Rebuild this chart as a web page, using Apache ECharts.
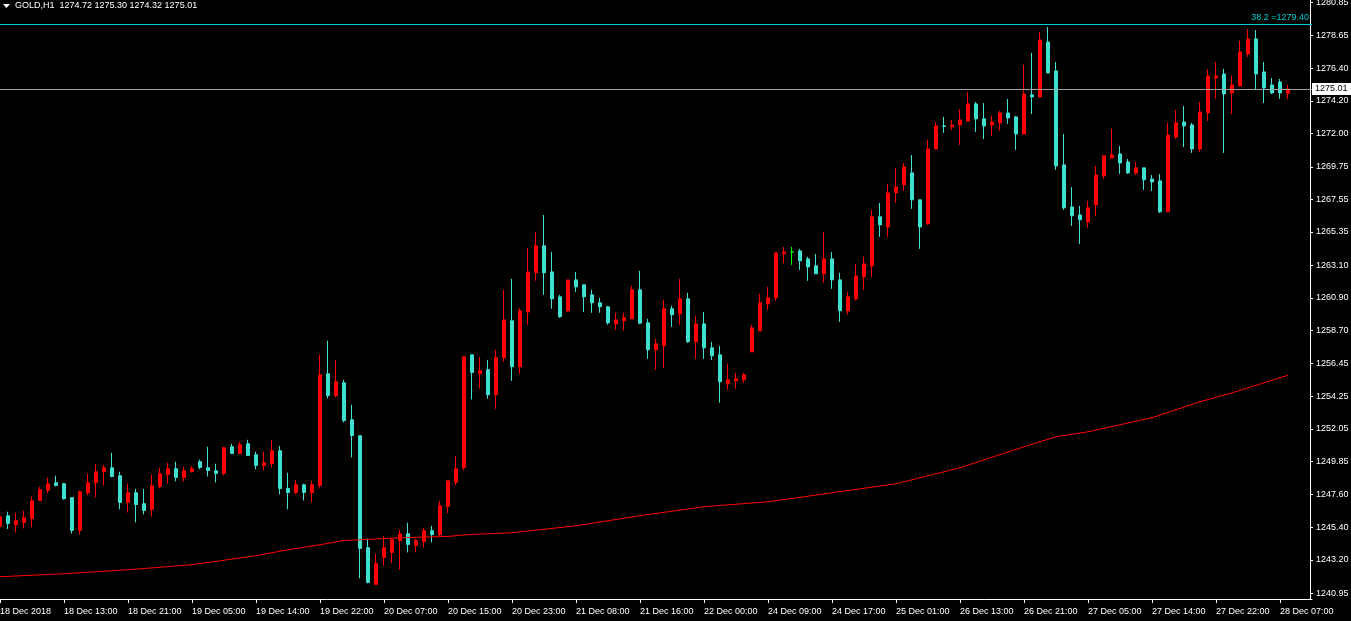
<!DOCTYPE html>
<html><head><meta charset="utf-8">
<script src="https://cdn.jsdelivr.net/npm/echarts@6/dist/echarts.min.js"></script>
<style>html,body{margin:0;padding:0;background:#000;overflow:hidden}#c{width:1351px;height:621px}</style>
</head><body><div id="c"></div>
<script>
const symbolName = 'GOLD,H1';
const tickLabels = ['18 Dec 2018','18 Dec 13:00','18 Dec 21:00','19 Dec 05:00','19 Dec 14:00','19 Dec 22:00','20 Dec 07:00','20 Dec 15:00','20 Dec 23:00','21 Dec 08:00','21 Dec 16:00','22 Dec 00:00','24 Dec 09:00','24 Dec 17:00','25 Dec 01:00','26 Dec 13:00','26 Dec 21:00','27 Dec 05:00','27 Dec 14:00','27 Dec 22:00','28 Dec 07:00'];
const tickAnchors = [[18,5],[18,13],[18,21],[19,5],[19,14],[19,22],[20,7],[20,15],[20,23],[21,8],[21,16],[22,0],[24,9],[24,17],[25,1],[26,13],[26,21],[27,5],[27,14],[27,22],[28,7]];
const opens = [1245.46,1246.18,1245.57,1245.73,1245.98,1247.21,1247.89,1248.41,1248.34,1247.40,1245.19,1247.73,1248.43,1249.17,1249.42,1248.88,1247.08,1247.73,1246.99,1246.61,
1248.16,1248.97,1249.35,1248.77,1249.15,1249.83,1249.42,1249.22,1249.04,1250.84,1250.39,1251.04,1250.30,1249.58,1249.71,1250.57,1248.02,1247.75,1248.27,1247.75,
1248.23,1255.77,1254.30,1255.16,1252.66,1251.58,1244.02,1241.54,1243.36,1243.70,1244.51,1244.96,1244.17,1244.44,1245.17,1244.90,1246.81,1248.43,1249.44,1257.05,
1255.77,1256.04,1254.35,1256.85,1259.35,1256.24,1259.95,1262.59,1264.41,1262.65,1260.97,1260.02,1262.11,1261.78,1261.10,1260.56,1260.29,1259.14,1259.35,1259.48,
1261.44,1259.21,1257.39,1257.66,1260.16,1259.82,1260.83,1257.93,1259.14,1257.52,1257.05,1255.09,1255.29,1255.36,1257.25,1258.67,1260.49,1260.90,1263.87,1264.00,
1264.07,1263.53,1263.06,1262.52,1263.53,1262.11,1260.02,1260.83,1262.32,1263.06,1266.37,1265.69,1267.99,1268.53,1269.34,1267.52,1265.90,1270.96,1272.51,1272.45,
1272.58,1272.85,1274.00,1272.99,1272.58,1272.72,1273.39,1273.12,1271.97,1274.61,1274.47,1278.18,1276.23,1269.88,1267.04,1266.50,1266.03,1267.18,1269.14,1270.35,
1270.62,1270.08,1269.34,1269.68,1268.93,1268.80,1266.71,1271.77,1272.78,1272.58,1270.96,1273.39,1275.75,1276.02,1274.74,1275.21,1277.37,1278.39,1276.16,1275.28,
1275.48,1274.72];
const closes = [1246.11,1245.66,1245.84,1246.04,1247.19,1247.94,1248.34,1248.23,1247.33,1245.19,1247.80,1248.41,1249.15,1249.42,1248.83,1247.08,1247.73,1246.94,1246.54,1248.20,
1249.02,1249.35,1248.77,1249.22,1249.35,1249.44,1249.24,1249.04,1250.77,1250.39,1250.97,1250.25,1249.58,1249.76,1250.57,1248.02,1247.75,1248.27,1247.75,1248.27,
1255.70,1254.30,1255.23,1252.61,1251.60,1243.97,1241.68,1242.94,1244.02,1244.56,1244.96,1244.24,1244.49,1245.17,1244.90,1246.86,1248.54,1249.35,1256.92,1255.86,
1255.97,1254.35,1256.85,1259.41,1256.24,1260.02,1262.65,1264.41,1262.59,1260.83,1259.62,1262.11,1261.64,1260.97,1260.56,1260.29,1259.21,1259.41,1259.55,1261.44,
1259.19,1257.39,1257.79,1260.16,1259.75,1260.83,1257.93,1259.14,1257.52,1256.98,1255.23,1255.36,1255.43,1255.70,1258.87,1260.56,1260.90,1263.94,1264.00,1264.00,
1263.40,1262.99,1262.52,1263.53,1262.11,1260.02,1260.97,1262.38,1263.19,1266.37,1265.83,1267.99,1268.39,1269.74,1267.52,1265.69,1270.96,1272.51,1272.48,1272.58,
1272.92,1274.00,1272.99,1272.51,1272.78,1273.39,1273.05,1271.97,1274.67,1274.47,1278.32,1276.09,1269.81,1266.98,1266.44,1266.17,1266.98,1269.20,1270.49,1270.55,
1270.01,1269.34,1269.68,1268.87,1268.73,1266.71,1271.90,1272.72,1272.51,1270.96,1273.46,1275.89,1275.89,1274.67,1275.28,1277.51,1278.39,1276.02,1275.08,1274.74,
1274.74,1275.01];
const lows = [1245.28,1245.28,1245.05,1245.32,1245.39,1247.21,1247.69,1248.16,1247.26,1244.98,1244.90,1247.55,1247.42,1248.23,1248.77,1246.61,1246.40,1245.73,1246.27,1246.13,
1248.02,1248.36,1248.50,1248.50,1249.10,1249.31,1248.83,1248.43,1248.90,1250.39,1250.39,1250.25,1249.31,1249.24,1249.44,1247.62,1246.61,1247.62,1247.21,1247.08,
1248.02,1254.10,1254.17,1252.48,1250.12,1241.95,1241.61,1241.54,1242.82,1242.96,1242.55,1243.70,1243.70,1244.04,1244.38,1244.76,1246.34,1248.23,1249.24,1254.03,
1254.78,1254.08,1253.40,1256.58,1255.29,1255.77,1259.08,1262.05,1261.10,1260.16,1259.55,1259.95,1261.30,1259.95,1259.89,1259.89,1259.08,1258.74,1258.67,1259.48,
1259.12,1256.78,1256.04,1256.17,1258.94,1259.08,1257.86,1256.78,1256.78,1256.71,1253.81,1254.69,1254.76,1255.16,1257.25,1258.67,1260.09,1260.70,1263.26,1263.13,
1262.79,1262.05,1262.52,1261.91,1261.51,1259.28,1259.75,1260.70,1261.44,1262.32,1265.02,1265.02,1267.31,1268.12,1266.91,1264.21,1265.83,1270.96,1272.04,1272.24,
1271.23,1272.78,1272.11,1271.63,1271.84,1272.18,1272.65,1270.89,1271.97,1273.32,1274.47,1276.09,1269.54,1266.84,1265.76,1264.54,1265.63,1266.44,1268.93,1270.35,
1269.27,1269.27,1269.20,1268.19,1268.12,1266.64,1266.71,1271.63,1271.09,1270.69,1270.75,1272.85,1274.34,1270.69,1273.32,1275.21,1277.17,1275.01,1274.06,1274.67,
1274.34,1274.32];
const highs = [1246.72,1246.45,1246.38,1246.52,1247.46,1248.14,1248.75,1248.88,1248.41,1247.40,1247.87,1249.02,1249.69,1249.62,1250.43,1249.15,1248.34,1248.00,1248.00,1248.95,
1249.42,1249.76,1249.83,1249.49,1249.54,1249.96,1250.84,1249.69,1250.84,1251.04,1251.18,1251.31,1250.50,1250.50,1251.31,1250.90,1249.08,1248.61,1248.34,1248.54,
1257.05,1258.00,1256.71,1255.36,1253.67,1251.58,1244.63,1243.61,1244.83,1244.63,1245.23,1245.71,1244.63,1245.37,1245.50,1247.19,1248.54,1250.23,1256.92,1257.05,
1256.92,1256.71,1257.39,1261.44,1262.18,1260.22,1264.27,1265.36,1266.50,1264.00,1261.10,1262.11,1262.65,1261.78,1261.44,1260.90,1260.36,1259.89,1259.89,1261.71,
1262.72,1259.48,1258.13,1260.76,1260.36,1262.18,1261.24,1259.68,1259.95,1257.93,1257.66,1256.44,1255.84,1255.84,1259.08,1261.17,1261.64,1263.94,1264.34,1264.34,
1264.21,1263.67,1263.87,1265.36,1264.00,1262.59,1261.30,1263.19,1263.67,1266.84,1267.31,1268.60,1269.68,1270.01,1270.55,1267.52,1271.57,1272.78,1273.12,1272.92,
1273.66,1274.81,1274.13,1274.06,1273.19,1273.53,1274.34,1273.19,1276.63,1277.44,1278.86,1279.20,1276.83,1271.97,1268.39,1267.11,1267.45,1269.81,1270.49,1272.31,
1271.16,1270.28,1270.08,1269.68,1269.20,1269.27,1272.72,1273.59,1273.86,1272.72,1274.13,1276.36,1276.83,1276.36,1275.89,1278.25,1279.06,1278.99,1276.83,1275.75,
1275.69,1275.30];
const maPoints = [[0,1242.06],[8,1242.26],[16,1242.53],[24,1242.87],[32,1243.48],[36,1243.88],[40,1244.22],[41,1244.31],[43,1244.51],[46,1244.58],[49,1244.67],[53,1244.74],[56,1244.78],[58,1244.88],[60,1244.94],[64,1245.03],[72,1245.50],[80,1246.18],[88,1246.79],[96,1247.12],[104,1247.73],[112,1248.34],[120,1249.42],[128,1250.84],[132,1251.51],[136,1251.85],[144,1252.80],[150,1253.88],[154,1254.48],[161,1255.67]];
const yTickValues = [1240.95,1243.20,1245.40,1247.60,1249.85,1252.05,1254.25,1256.45,1258.70,1260.90,1263.10,1265.35,1267.55,1269.75,1272.00,1274.20,1276.40,1278.65,1280.85];
const fiboName = '38.2';
const fiboLevel = 1279.40;
const emptySlots = 3;

const MON = ['Jan','Feb','Mar','Apr','May','Jun','Jul','Aug','Sep','Oct','Nov','Dec'];
const nBars = opens.length;
const categories = [];
for (let k = 0; k < nBars + emptySlots; k++) {
  const a = Math.min(Math.floor(k / 8), tickAnchors.length - 1);
  const off = k - 8 * a;
  if (off === 0) { categories.push(tickLabels[a]); continue; }
  const d = new Date(Date.UTC(2018, 11, tickAnchors[a][0], tickAnchors[a][1] + off));
  categories.push(String(d.getUTCDate()).padStart(2, '0') + ' ' + MON[d.getUTCMonth()] + ' ' + String(d.getUTCHours()).padStart(2, '0') + ':00');
}
const DOJI = '#00ff00';
const candleData = opens.map((o, i) => {
  const item = { value: [o, closes[i], lows[i], highs[i]] };
  if (o === closes[i]) item.itemStyle = { color: DOJI, color0: DOJI, borderColor: DOJI, borderColor0: DOJI, borderColorDoji: DOJI };
  return item;
});
const last = nBars - 1;
const lastPrice = closes[last];
const FONT = 'Liberation Sans, Arial, sans-serif';
const headerText = symbolName + '  ' + [opens[last], highs[last], lows[last], closes[last]].map(v => v.toFixed(2)).join(' ');

const chart = echarts.init(document.getElementById('c'), null, { renderer: 'canvas' });
chart.setOption({
  backgroundColor: '#000000',
  animation: false,
  title: { text: headerText, left: 15, top: 1, padding: 0, textStyle: { color: '#ffffff', fontSize: 9, fontWeight: 'normal', fontFamily: FONT } },
  graphic: [{ type: 'polygon', shape: { points: [[3, 4], [10, 4], [6.5, 8]] }, style: { fill: '#ffffff' }, silent: true }],
  grid: { left: 0, right: 39, top: 0, bottom: 22, containLabel: false, outerBoundsMode: 'none' },
  xAxis: {
    type: 'category', data: categories, boundaryGap: false,
    axisLine: { lineStyle: { color: '#ffffff', width: 1 } },
    axisTick: { interval: 7, length: 4, lineStyle: { color: '#ffffff' } },
    axisLabel: { interval: 7, align: 'left', color: '#ffffff', fontSize: 9, margin: 8, fontFamily: FONT },
    splitLine: { show: false }
  },
  yAxis: {
    type: 'value', position: 'right', offset: -2, min: 1240.554, max: 1281.02, scale: true,
    axisLine: { show: true, lineStyle: { color: '#ffffff', width: 1 } },
    axisTick: { show: true, length: 3, customValues: yTickValues, lineStyle: { color: '#ffffff' } },
    axisLabel: { customValues: yTickValues, formatter: v => v.toFixed(2), color: '#ffffff', fontSize: 9, margin: 6, padding: [4, 0, 0, 0], fontFamily: FONT },
    splitLine: { show: false }
  },
  series: [
    {
      type: 'candlestick', data: candleData, barWidth: 4, silent: true,
      itemStyle: { color: '#ff0000', color0: '#40e0d0', borderColor: '#ff0000', borderColor0: '#40e0d0', borderColorDoji: DOJI, borderWidth: 1 },
      emphasis: { disabled: true },
      markLine: {
        silent: true, symbol: 'none', animation: false, precision: 2,
        data: [
          { yAxis: fiboLevel, lineStyle: { color: '#00ced1', width: 1, type: 'solid' },
            label: { show: true, position: 'insideEndTop', formatter: fiboName + ' =' + fiboLevel.toFixed(2), color: '#00ced1', fontSize: 9, fontFamily: FONT, distance: [3, 2] } },
          { yAxis: lastPrice, lineStyle: { color: '#a0a0a0', width: 1, type: 'solid' },
            label: { show: true, position: 'end', formatter: lastPrice.toFixed(2), backgroundColor: '#ffffff', color: '#000000', fontSize: 9, fontFamily: FONT, padding: [2, 4, 1, 3], distance: 0 } }
        ]
      }
    },
    {
      type: 'line', data: maPoints, symbol: 'none', showSymbol: false, silent: true, z: 3,
      lineStyle: { color: '#ff0000', width: 1 }, emphasis: { disabled: true }
    }
  ]
});
</script>
</body></html>
